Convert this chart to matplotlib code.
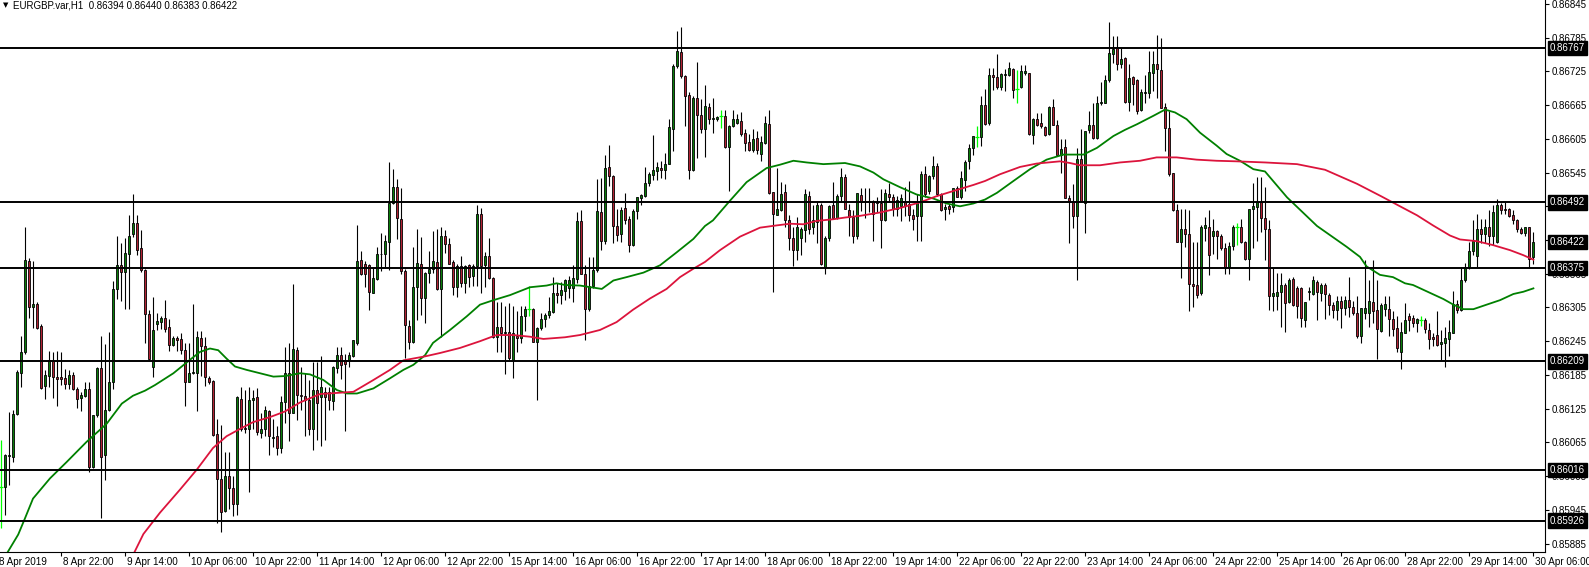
import numpy as np
import matplotlib
matplotlib.use("Agg")
import matplotlib.pyplot as plt
from matplotlib.transforms import blended_transform_factory

plt.rcParams['font.family'] = ['Liberation Sans', 'DejaVu Sans']

# EURGBP H1, bars 1..384 (8 Apr 07:00 .. 30 Apr 06:00)
opens = [
    0.85986, 0.85986, 0.86041, 0.86039, 0.86115, 0.86189, 0.86225, 0.86387, 0.86305, 0.86311,
    0.86272, 0.86165, 0.86183, 0.86210, 0.86181, 0.86181, 0.86180, 0.86169, 0.86185, 0.86160,
    0.86144, 0.86147, 0.86160, 0.86022, 0.86113, 0.86197, 0.86042, 0.86122, 0.86172, 0.86337,
    0.86380, 0.86368, 0.86400, 0.86435, 0.86456, 0.86411, 0.86371, 0.86294, 0.86200, 0.86275,
    0.86280, 0.86286, 0.86271, 0.86238, 0.86250, 0.86249, 0.86230, 0.86172, 0.86188, 0.86188,
    0.86250, 0.86236, 0.86180, 0.86175, 0.86080, 0.85999, 0.85943, 0.86006, 0.85984, 0.85955,
    0.86143, 0.86091, 0.86088, 0.86141, 0.86145, 0.86082, 0.86088, 0.86120, 0.86072, 0.86076,
    0.86055, 0.86136, 0.86189, 0.86118, 0.86230, 0.86149, 0.86148, 0.86141, 0.86088, 0.86158,
    0.86145, 0.86155, 0.86154, 0.86139, 0.86197, 0.86220, 0.86211, 0.86211, 0.86218, 0.86242,
    0.86390, 0.86382, 0.86380, 0.86331, 0.86356, 0.86400, 0.86401, 0.86422, 0.86490, 0.86519,
    0.86463, 0.86370, 0.86272, 0.86243, 0.86341, 0.86382, 0.86321, 0.86367, 0.86374, 0.86386,
    0.86337, 0.86432, 0.86418, 0.86386, 0.86341, 0.86379, 0.86348, 0.86380, 0.86361, 0.86379,
    0.86471, 0.86381, 0.86396, 0.86357, 0.86253, 0.86270, 0.86259, 0.86261, 0.86212, 0.86255,
    0.86251, 0.86289, 0.86302, 0.86302, 0.86244, 0.86269, 0.86285, 0.86291, 0.86297, 0.86331,
    0.86327, 0.86335, 0.86340, 0.86340, 0.86356, 0.86459, 0.86364, 0.86302, 0.86343, 0.86371,
    0.86474, 0.86424, 0.86555, 0.86539, 0.86450, 0.86436, 0.86482, 0.86463, 0.86416, 0.86476,
    0.86500, 0.86504, 0.86526, 0.86541, 0.86548, 0.86554, 0.86550, 0.86561, 0.86623, 0.86734,
    0.86760, 0.86716, 0.86683, 0.86550, 0.86678, 0.86648, 0.86622, 0.86662, 0.86640, 0.86640,
    0.86646, 0.86646, 0.86590, 0.86628, 0.86634, 0.86636, 0.86616, 0.86599, 0.86585, 0.86606,
    0.86578, 0.86597, 0.86631, 0.86510, 0.86469, 0.86479, 0.86510, 0.86460, 0.86428, 0.86407,
    0.86428, 0.86442, 0.86504, 0.86448, 0.86457, 0.86487, 0.86377, 0.86428, 0.86487, 0.86465,
    0.86504, 0.86537, 0.86479, 0.86466, 0.86433, 0.86505, 0.86495, 0.86492, 0.86495, 0.86492,
    0.86490, 0.86460, 0.86506, 0.86502, 0.86480, 0.86485, 0.86492, 0.86489, 0.86470, 0.86468,
    0.86468, 0.86543, 0.86512, 0.86539, 0.86557, 0.86506, 0.86480, 0.86485, 0.86484, 0.86518,
    0.86501, 0.86531, 0.86565, 0.86588, 0.86608, 0.86608, 0.86666, 0.86633, 0.86719, 0.86715,
    0.86697, 0.86718, 0.86719, 0.86729, 0.86693, 0.86697, 0.86722, 0.86723, 0.86611, 0.86640,
    0.86633, 0.86626, 0.86613, 0.86662, 0.86630, 0.86577, 0.86591, 0.86499, 0.86495, 0.86467,
    0.86570, 0.86491, 0.86620, 0.86630, 0.86607, 0.86668, 0.86669, 0.86710, 0.86756, 0.86769,
    0.86738, 0.86749, 0.86671, 0.86715, 0.86709, 0.86656, 0.86686, 0.86687, 0.86722, 0.86738,
    0.86728, 0.86662, 0.86625, 0.86544, 0.86479, 0.86421, 0.86445, 0.86436, 0.86346, 0.86345,
    0.86330, 0.86447, 0.86448, 0.86432, 0.86441, 0.86432, 0.86411, 0.86377, 0.86414, 0.86449,
    0.86449, 0.86421, 0.86392, 0.86480, 0.86483, 0.86492, 0.86465, 0.86445, 0.86326, 0.86326,
    0.86333, 0.86345, 0.86314, 0.86356, 0.86340, 0.86339, 0.86282, 0.86333, 0.86329, 0.86351,
    0.86330, 0.86345, 0.86327, 0.86310, 0.86300, 0.86316, 0.86304, 0.86319, 0.86306, 0.86295,
    0.86254, 0.86295, 0.86295, 0.86314, 0.86300, 0.86264, 0.86303, 0.86302, 0.86284, 0.86268,
    0.86225, 0.86259, 0.86289, 0.86286, 0.86277, 0.86282, 0.86283, 0.86265, 0.86253, 0.86256,
    0.86240, 0.86242, 0.86249, 0.86259, 0.86311, 0.86301, 0.86353, 0.86377, 0.86406, 0.86396,
    0.86445, 0.86435, 0.86448, 0.86433, 0.86422, 0.86487, 0.86480, 0.86480, 0.86469, 0.86461,
    0.86445, 0.86438, 0.86448, 0.86394,
]
highs = [
    0.86069, 0.86045, 0.86119, 0.86122, 0.86194, 0.86255, 0.86449, 0.86393, 0.86387, 0.86314,
    0.86275, 0.86194, 0.86228, 0.86226, 0.86228, 0.86226, 0.86196, 0.86194, 0.86190, 0.86163,
    0.86154, 0.86173, 0.86173, 0.86114, 0.86200, 0.86255, 0.86240, 0.86261, 0.86352, 0.86433,
    0.86420, 0.86429, 0.86470, 0.86507, 0.86470, 0.86442, 0.86374, 0.86300, 0.86324, 0.86295,
    0.86289, 0.86318, 0.86284, 0.86254, 0.86254, 0.86259, 0.86241, 0.86241, 0.86312, 0.86263,
    0.86263, 0.86253, 0.86183, 0.86176, 0.86107, 0.86096, 0.86048, 0.86048, 0.86005, 0.86147,
    0.86164, 0.86158, 0.86163, 0.86158, 0.86161, 0.86117, 0.86129, 0.86123, 0.86107, 0.86094,
    0.86147, 0.86235, 0.86241, 0.86346, 0.86235, 0.86200, 0.86188, 0.86176, 0.86208, 0.86208,
    0.86218, 0.86164, 0.86164, 0.86201, 0.86235, 0.86235, 0.86223, 0.86226, 0.86248, 0.86452,
    0.86406, 0.86387, 0.86382, 0.86377, 0.86412, 0.86437, 0.86434, 0.86564, 0.86551, 0.86533,
    0.86518, 0.86374, 0.86282, 0.86412, 0.86444, 0.86430, 0.86369, 0.86406, 0.86441, 0.86444,
    0.86449, 0.86442, 0.86428, 0.86389, 0.86382, 0.86396, 0.86380, 0.86383, 0.86382, 0.86488,
    0.86482, 0.86404, 0.86428, 0.86360, 0.86314, 0.86315, 0.86307, 0.86313, 0.86307, 0.86298,
    0.86307, 0.86307, 0.86343, 0.86304, 0.86271, 0.86296, 0.86295, 0.86324, 0.86360, 0.86348,
    0.86351, 0.86356, 0.86361, 0.86380, 0.86475, 0.86479, 0.86380, 0.86394, 0.86394, 0.86534,
    0.86536, 0.86577, 0.86594, 0.86540, 0.86480, 0.86483, 0.86509, 0.86467, 0.86480, 0.86502,
    0.86506, 0.86555, 0.86546, 0.86611, 0.86564, 0.86566, 0.86580, 0.86640, 0.86738, 0.86796,
    0.86804, 0.86719, 0.86689, 0.86682, 0.86742, 0.86675, 0.86700, 0.86668, 0.86678, 0.86646,
    0.86656, 0.86656, 0.86630, 0.86656, 0.86649, 0.86652, 0.86622, 0.86613, 0.86622, 0.86619,
    0.86610, 0.86646, 0.86656, 0.86510, 0.86554, 0.86528, 0.86525, 0.86469, 0.86448, 0.86466,
    0.86449, 0.86516, 0.86512, 0.86487, 0.86492, 0.86490, 0.86433, 0.86487, 0.86528, 0.86506,
    0.86554, 0.86542, 0.86489, 0.86478, 0.86509, 0.86518, 0.86518, 0.86518, 0.86497, 0.86502,
    0.86515, 0.86515, 0.86527, 0.86506, 0.86503, 0.86506, 0.86519, 0.86530, 0.86480, 0.86506,
    0.86547, 0.86557, 0.86541, 0.86574, 0.86562, 0.86508, 0.86489, 0.86489, 0.86518, 0.86521,
    0.86547, 0.86568, 0.86595, 0.86610, 0.86627, 0.86682, 0.86694, 0.86731, 0.86731, 0.86756,
    0.86722, 0.86729, 0.86742, 0.86731, 0.86727, 0.86737, 0.86737, 0.86723, 0.86642, 0.86651,
    0.86651, 0.86628, 0.86663, 0.86675, 0.86638, 0.86604, 0.86604, 0.86505, 0.86524, 0.86589,
    0.86622, 0.86619, 0.86654, 0.86669, 0.86681, 0.86707, 0.86719, 0.86812, 0.86788, 0.86788,
    0.86767, 0.86750, 0.86738, 0.86716, 0.86711, 0.86693, 0.86719, 0.86762, 0.86762, 0.86790,
    0.86785, 0.86669, 0.86655, 0.86544, 0.86489, 0.86480, 0.86480, 0.86478, 0.86421, 0.86421,
    0.86451, 0.86466, 0.86479, 0.86463, 0.86443, 0.86436, 0.86419, 0.86421, 0.86451, 0.86455,
    0.86463, 0.86424, 0.86480, 0.86526, 0.86537, 0.86538, 0.86520, 0.86460, 0.86375, 0.86366,
    0.86366, 0.86349, 0.86357, 0.86360, 0.86343, 0.86342, 0.86314, 0.86342, 0.86361, 0.86353,
    0.86349, 0.86349, 0.86330, 0.86314, 0.86326, 0.86325, 0.86326, 0.86360, 0.86316, 0.86326,
    0.86304, 0.86389, 0.86354, 0.86389, 0.86354, 0.86313, 0.86325, 0.86325, 0.86298, 0.86289,
    0.86280, 0.86313, 0.86295, 0.86292, 0.86287, 0.86290, 0.86286, 0.86278, 0.86259, 0.86299,
    0.86265, 0.86271, 0.86283, 0.86335, 0.86318, 0.86377, 0.86385, 0.86422, 0.86460, 0.86472,
    0.86463, 0.86463, 0.86479, 0.86488, 0.86498, 0.86491, 0.86492, 0.86482, 0.86478, 0.86463,
    0.86449, 0.86449, 0.86448, 0.86440,
]
lows = [
    0.85912, 0.85936, 0.85989, 0.86030, 0.86113, 0.86163, 0.86222, 0.86287, 0.86269, 0.86266,
    0.86160, 0.86143, 0.86163, 0.86144, 0.86130, 0.86167, 0.86160, 0.86160, 0.86159, 0.86127,
    0.86121, 0.86145, 0.86012, 0.86020, 0.86110, 0.85930, 0.85998, 0.86120, 0.86160, 0.86320,
    0.86317, 0.86303, 0.86302, 0.86430, 0.86399, 0.86368, 0.86242, 0.86212, 0.86181, 0.86265,
    0.86266, 0.86261, 0.86228, 0.86236, 0.86228, 0.86223, 0.86130, 0.86172, 0.86187, 0.86121,
    0.86183, 0.86166, 0.86169, 0.86076, 0.85921, 0.85906, 0.85941, 0.85946, 0.85934, 0.85935,
    0.86086, 0.86082, 0.85976, 0.86088, 0.86079, 0.86073, 0.86076, 0.86043, 0.86057, 0.86043,
    0.86046, 0.86099, 0.86067, 0.86117, 0.86105, 0.86123, 0.86076, 0.86079, 0.86051, 0.86070,
    0.86058, 0.86070, 0.86123, 0.86123, 0.86188, 0.86177, 0.86085, 0.86200, 0.86217, 0.86238,
    0.86362, 0.86341, 0.86301, 0.86330, 0.86353, 0.86370, 0.86377, 0.86371, 0.86489, 0.86427,
    0.86365, 0.86216, 0.86232, 0.86241, 0.86282, 0.86291, 0.86278, 0.86349, 0.86367, 0.86336,
    0.86252, 0.86402, 0.86382, 0.86327, 0.86324, 0.86342, 0.86331, 0.86342, 0.86343, 0.86343,
    0.86330, 0.86342, 0.86355, 0.86251, 0.86225, 0.86225, 0.86187, 0.86212, 0.86180, 0.86225,
    0.86242, 0.86264, 0.86290, 0.86243, 0.86141, 0.86265, 0.86271, 0.86286, 0.86295, 0.86313,
    0.86311, 0.86318, 0.86321, 0.86315, 0.86349, 0.86364, 0.86247, 0.86298, 0.86340, 0.86368,
    0.86408, 0.86418, 0.86521, 0.86420, 0.86424, 0.86421, 0.86453, 0.86404, 0.86415, 0.86462,
    0.86487, 0.86501, 0.86521, 0.86532, 0.86532, 0.86536, 0.86533, 0.86560, 0.86583, 0.86731,
    0.86713, 0.86627, 0.86533, 0.86548, 0.86571, 0.86616, 0.86572, 0.86631, 0.86616, 0.86636,
    0.86624, 0.86589, 0.86513, 0.86626, 0.86631, 0.86610, 0.86583, 0.86584, 0.86581, 0.86578,
    0.86566, 0.86596, 0.86507, 0.86333, 0.86469, 0.86477, 0.86448, 0.86408, 0.86379, 0.86389,
    0.86398, 0.86422, 0.86436, 0.86436, 0.86419, 0.86380, 0.86364, 0.86423, 0.86463, 0.86463,
    0.86495, 0.86480, 0.86433, 0.86419, 0.86427, 0.86477, 0.86465, 0.86474, 0.86423, 0.86474,
    0.86411, 0.86459, 0.86493, 0.86468, 0.86468, 0.86459, 0.86468, 0.86459, 0.86443, 0.86424,
    0.86424, 0.86501, 0.86506, 0.86533, 0.86503, 0.86477, 0.86460, 0.86472, 0.86474, 0.86501,
    0.86498, 0.86512, 0.86552, 0.86577, 0.86590, 0.86592, 0.86630, 0.86630, 0.86692, 0.86694,
    0.86692, 0.86691, 0.86716, 0.86678, 0.86669, 0.86695, 0.86719, 0.86611, 0.86595, 0.86627,
    0.86624, 0.86610, 0.86611, 0.86629, 0.86575, 0.86545, 0.86499, 0.86420, 0.86447, 0.86353,
    0.86495, 0.86437, 0.86616, 0.86604, 0.86605, 0.86666, 0.86668, 0.86707, 0.86740, 0.86728,
    0.86731, 0.86669, 0.86655, 0.86666, 0.86649, 0.86655, 0.86669, 0.86678, 0.86691, 0.86678,
    0.86660, 0.86584, 0.86539, 0.86476, 0.86421, 0.86357, 0.86413, 0.86298, 0.86306, 0.86321,
    0.86327, 0.86424, 0.86362, 0.86401, 0.86392, 0.86408, 0.86365, 0.86364, 0.86408, 0.86416,
    0.86419, 0.86389, 0.86354, 0.86410, 0.86424, 0.86439, 0.86390, 0.86301, 0.86298, 0.86301,
    0.86270, 0.86261, 0.86313, 0.86308, 0.86286, 0.86271, 0.86271, 0.86319, 0.86327, 0.86283,
    0.86316, 0.86284, 0.86292, 0.86286, 0.86283, 0.86268, 0.86292, 0.86288, 0.86292, 0.86251,
    0.86241, 0.86284, 0.86271, 0.86277, 0.86214, 0.86261, 0.86289, 0.86255, 0.86254, 0.86225,
    0.86195, 0.86259, 0.86264, 0.86271, 0.86262, 0.86272, 0.86259, 0.86231, 0.86236, 0.86236,
    0.86212, 0.86200, 0.86218, 0.86259, 0.86296, 0.86298, 0.86351, 0.86374, 0.86398, 0.86377,
    0.86419, 0.86419, 0.86414, 0.86416, 0.86419, 0.86472, 0.86472, 0.86466, 0.86454, 0.86439,
    0.86436, 0.86433, 0.86376, 0.86383,
]
closes = [
    0.85986, 0.86042, 0.86043, 0.86116, 0.86190, 0.86226, 0.86390, 0.86305, 0.86312, 0.86269,
    0.86161, 0.86185, 0.86212, 0.86181, 0.86178, 0.86177, 0.86169, 0.86185, 0.86160, 0.86143,
    0.86150, 0.86160, 0.86022, 0.86113, 0.86197, 0.86039, 0.86122, 0.86173, 0.86337, 0.86380,
    0.86368, 0.86402, 0.86433, 0.86456, 0.86408, 0.86371, 0.86293, 0.86213, 0.86265, 0.86281,
    0.86286, 0.86267, 0.86238, 0.86250, 0.86247, 0.86229, 0.86172, 0.86189, 0.86190, 0.86253,
    0.86236, 0.86181, 0.86172, 0.86078, 0.85999, 0.85942, 0.86006, 0.85984, 0.85955, 0.86145,
    0.86088, 0.86088, 0.86141, 0.86144, 0.86083, 0.86088, 0.86122, 0.86076, 0.86074, 0.86055,
    0.86136, 0.86189, 0.86118, 0.86232, 0.86149, 0.86148, 0.86141, 0.86089, 0.86158, 0.86135,
    0.86164, 0.86145, 0.86141, 0.86200, 0.86220, 0.86203, 0.86204, 0.86220, 0.86247, 0.86388,
    0.86365, 0.86365, 0.86332, 0.86357, 0.86400, 0.86401, 0.86423, 0.86490, 0.86519, 0.86464,
    0.86370, 0.86273, 0.86243, 0.86341, 0.86384, 0.86321, 0.86367, 0.86374, 0.86388, 0.86337,
    0.86432, 0.86418, 0.86383, 0.86341, 0.86379, 0.86348, 0.86379, 0.86359, 0.86379, 0.86471,
    0.86379, 0.86396, 0.86357, 0.86253, 0.86271, 0.86259, 0.86261, 0.86215, 0.86259, 0.86251,
    0.86289, 0.86302, 0.86302, 0.86244, 0.86269, 0.86285, 0.86291, 0.86298, 0.86331, 0.86327,
    0.86336, 0.86353, 0.86353, 0.86357, 0.86458, 0.86365, 0.86302, 0.86344, 0.86371, 0.86477,
    0.86424, 0.86554, 0.86539, 0.86450, 0.86434, 0.86479, 0.86461, 0.86416, 0.86477, 0.86501,
    0.86505, 0.86527, 0.86542, 0.86550, 0.86555, 0.86550, 0.86560, 0.86626, 0.86735, 0.86762,
    0.86716, 0.86681, 0.86550, 0.86678, 0.86648, 0.86622, 0.86664, 0.86640, 0.86642, 0.86644,
    0.86646, 0.86590, 0.86628, 0.86640, 0.86640, 0.86613, 0.86597, 0.86585, 0.86605, 0.86585,
    0.86599, 0.86634, 0.86508, 0.86472, 0.86480, 0.86507, 0.86460, 0.86428, 0.86408, 0.86449,
    0.86444, 0.86506, 0.86445, 0.86460, 0.86487, 0.86383, 0.86428, 0.86485, 0.86465, 0.86504,
    0.86538, 0.86480, 0.86466, 0.86433, 0.86508, 0.86492, 0.86493, 0.86495, 0.86471, 0.86490,
    0.86460, 0.86508, 0.86501, 0.86480, 0.86496, 0.86499, 0.86485, 0.86470, 0.86462, 0.86490,
    0.86543, 0.86506, 0.86539, 0.86557, 0.86506, 0.86478, 0.86483, 0.86480, 0.86517, 0.86502,
    0.86535, 0.86564, 0.86588, 0.86610, 0.86608, 0.86666, 0.86632, 0.86719, 0.86715, 0.86697,
    0.86720, 0.86720, 0.86731, 0.86692, 0.86693, 0.86725, 0.86725, 0.86613, 0.86640, 0.86630,
    0.86627, 0.86611, 0.86662, 0.86630, 0.86577, 0.86587, 0.86499, 0.86493, 0.86467, 0.86570,
    0.86495, 0.86619, 0.86630, 0.86607, 0.86669, 0.86670, 0.86710, 0.86757, 0.86764, 0.86738,
    0.86747, 0.86671, 0.86714, 0.86703, 0.86655, 0.86689, 0.86689, 0.86724, 0.86738, 0.86730,
    0.86660, 0.86624, 0.86542, 0.86478, 0.86421, 0.86445, 0.86435, 0.86347, 0.86343, 0.86327,
    0.86448, 0.86451, 0.86398, 0.86441, 0.86432, 0.86410, 0.86377, 0.86414, 0.86448, 0.86449,
    0.86421, 0.86392, 0.86480, 0.86485, 0.86492, 0.86465, 0.86445, 0.86326, 0.86330, 0.86333,
    0.86345, 0.86313, 0.86353, 0.86310, 0.86308, 0.86286, 0.86314, 0.86335, 0.86353, 0.86332,
    0.86345, 0.86329, 0.86310, 0.86301, 0.86317, 0.86304, 0.86319, 0.86306, 0.86295, 0.86254,
    0.86304, 0.86304, 0.86316, 0.86298, 0.86266, 0.86310, 0.86312, 0.86284, 0.86267, 0.86233,
    0.86261, 0.86283, 0.86283, 0.86278, 0.86285, 0.86282, 0.86266, 0.86249, 0.86249, 0.86239,
    0.86243, 0.86250, 0.86261, 0.86311, 0.86300, 0.86353, 0.86377, 0.86406, 0.86423, 0.86445,
    0.86435, 0.86448, 0.86432, 0.86475, 0.86488, 0.86479, 0.86479, 0.86467, 0.86461, 0.86444,
    0.86438, 0.86448, 0.86392, 0.86422,
]

# moving averages, read at points along the two lines (bar position, price)
green_ma_bar = [1, 5.3, 7, 9, 13.25, 17.4, 22.4, 27.4, 31.2, 34, 37, 39.5, 44.1, 48.25, 50.75, 53.25,
                55.3, 57.4, 59.5, 62.4, 65.75, 69.1, 72, 75.75, 78.25, 81.6, 85, 87.5, 90, 94.1,
                98.25, 101.6, 104.1, 107, 109, 113.25, 117.4, 120.75, 124.1, 128.25, 133.25, 137.4,
                139.9, 142, 145.75, 151.2, 154.1, 157.4, 161.6, 165.75, 169.9, 174.1, 177, 179,
                183.25, 187.4, 192.4, 195.75, 199.1, 202.4, 206.6, 212, 215.75, 219.1, 221.6,
                225.75, 229.9, 234, 237.4, 240.75, 244.1, 247, 250, 254.1, 258.25, 262.4, 266.6,
                271.6, 275, 279.1, 282, 285, 289.1, 292, 294.5, 297.4, 300.75, 304.9, 307.4,
                310.75, 314.1, 317, 322.5, 330, 337.4, 340.75, 342.4, 345.75, 349, 352, 354,
                358.25, 361.6, 364.1, 366.6, 369.1, 372.4, 375.75, 379.1, 381.6, 384.1]
green_ma = [0.85850, 0.85901, 0.85930, 0.85965, 0.86001, 0.86030, 0.86066, 0.86098, 0.86134, 0.86148,
            0.86157, 0.86167, 0.86188, 0.86212, 0.86226, 0.86232, 0.86229, 0.86214, 0.86200, 0.86194,
            0.86188, 0.86182, 0.86183, 0.86188, 0.86186, 0.86176, 0.86158, 0.86152, 0.86152, 0.86161,
            0.86179, 0.86194, 0.86203, 0.86220, 0.86242, 0.86265, 0.86289, 0.86310, 0.86318, 0.86327,
            0.86341, 0.86344, 0.86348, 0.86345, 0.86344, 0.86338, 0.86353, 0.86359, 0.86367, 0.86380,
            0.86403, 0.86427, 0.86450, 0.86460, 0.86495, 0.86528, 0.86553, 0.86559, 0.86566, 0.86563,
            0.86560, 0.86562, 0.86556, 0.86545, 0.86533, 0.86519, 0.86506, 0.86499, 0.86490, 0.86485,
            0.86490, 0.86497, 0.86509, 0.86530, 0.86551, 0.86568, 0.86577, 0.86577, 0.86589, 0.86610,
            0.86621, 0.86631, 0.86646, 0.86657, 0.86652, 0.86640, 0.86616, 0.86593, 0.86578, 0.86566,
            0.86551, 0.86547, 0.86501, 0.86450, 0.86413, 0.86395, 0.86378, 0.86363, 0.86359, 0.86348,
            0.86345, 0.86331, 0.86320, 0.86310, 0.86302, 0.86302, 0.86310, 0.86318, 0.86329, 0.86333,
            0.86339]
red_ma_bar = [33, 36.6, 40.75, 45.75, 50, 54, 57.4, 60.75, 64, 68.25, 72, 75.75, 80.75, 85, 89.1,
              94.1, 98.25, 101.6, 107, 110.75, 115.75, 120.75, 124.9, 129, 133.25, 136.6, 142,
              145.75, 150.75, 154.9, 159, 163.25, 167.4, 170.75, 174.1, 177, 180.75, 185.75,
              190.75, 194.9, 198.25, 201.6, 204.9, 209.1, 212, 215.75, 220.75, 225.75, 230.75,
              234.9, 239, 244.1, 247, 250.75, 255.75, 259.9, 265.75, 268.25, 270.75, 275.75,
              280.75, 285.75, 289.9, 294.9, 299.9, 304.9, 309.9, 317, 325, 332, 340, 346, 350.75,
              355, 359, 363.25, 365.75, 369.9, 374, 378.25, 381.6, 384.1]
red_ma = [0.85850, 0.85902, 0.85940, 0.85981, 0.86017, 0.86055, 0.86076, 0.86089, 0.86101, 0.86110,
          0.86120, 0.86136, 0.86151, 0.86153, 0.86155, 0.86176, 0.86194, 0.86211, 0.86218, 0.86224,
          0.86233, 0.86245, 0.86256, 0.86256, 0.86253, 0.86249, 0.86252, 0.86256, 0.86265, 0.86279,
          0.86301, 0.86321, 0.86338, 0.86359, 0.86374, 0.86386, 0.86407, 0.86431, 0.86447, 0.86451,
          0.86454, 0.86453, 0.86459, 0.86462, 0.86465, 0.86468, 0.86474, 0.86482, 0.86492, 0.86503,
          0.86512, 0.86523, 0.86530, 0.86542, 0.86555, 0.86561, 0.86565, 0.86562, 0.86558, 0.86558,
          0.86563, 0.86566, 0.86572, 0.86572, 0.86568, 0.86566, 0.86565, 0.86563, 0.86560, 0.86550,
          0.86525, 0.86503, 0.86485, 0.86469, 0.86451, 0.86433, 0.86426, 0.86423, 0.86416, 0.86407,
          0.86398, 0.86390]

levels = [0.86767, 0.86492, 0.86375, 0.86209, 0.86016, 0.85926]
last_price = 0.86422
price_ticks = [0.86845, 0.86785, 0.86725, 0.86665, 0.86605, 0.86545, 0.86485, 0.86425, 0.86365,
               0.86305, 0.86245, 0.86185, 0.86125, 0.86065, 0.86005, 0.85945, 0.85885]
time_labels = ["8 Apr 2019", "8 Apr 22:00", "9 Apr 14:00", "10 Apr 06:00", "10 Apr 22:00",
               "11 Apr 14:00", "12 Apr 06:00", "12 Apr 22:00", "15 Apr 14:00", "16 Apr 06:00",
               "16 Apr 22:00", "17 Apr 14:00", "18 Apr 06:00", "18 Apr 22:00", "19 Apr 14:00",
               "22 Apr 06:00", "22 Apr 22:00", "23 Apr 14:00", "24 Apr 06:00", "24 Apr 22:00",
               "25 Apr 14:00", "26 Apr 06:00", "28 Apr 22:00", "29 Apr 14:00", "30 Apr 06:00"]
title = "EURGBP.var,H1  0.86394 0.86440 0.86383 0.86422"

W, H = 1589, 567
fig = plt.figure(figsize=(W / 100, H / 100), dpi=100)
ax = fig.add_axes([0, 1 - 552 / H, 1545 / W, 552 / H])

o = np.array(opens)
hi = np.array(highs)
lo = np.array(lows)
c = np.array(closes)
hi = np.maximum(hi, np.maximum(o, c))
lo = np.minimum(lo, np.minimum(o, c))
x = np.arange(1, len(c) + 1)

doji = o == c
up = c > o
dn = c < o

ax.vlines(x[~doji], lo[~doji], hi[~doji], color='black', lw=0.8, zorder=2)
ax.bar(x[up], c[up] - o[up], bottom=o[up], width=0.62, color='#0A7D0A',
       edgecolor='black', linewidth=0.6, zorder=3)
ax.bar(x[dn], o[dn] - c[dn], bottom=c[dn], width=0.62, color='#B22234',
       edgecolor='black', linewidth=0.6, zorder=3)
ax.vlines(x[doji], lo[doji], hi[doji], color='#00FF00', lw=0.9, zorder=3)
ax.hlines(o[doji], x[doji] - 0.4, x[doji] + 0.4, color='#00FF00', lw=0.9, zorder=3)

ax.plot(green_ma_bar, green_ma, color='#008000', lw=1.3, zorder=4)
ax.plot(red_ma_bar, red_ma, color='#DC143C', lw=1.3, zorder=4)

for lv in levels:
    ax.axhline(lv, color='black', lw=1.4, zorder=5)

ax.set_xlim(0.75, 387)
ax.set_ylim(0.85870, 0.86852)

for side in ['top', 'left']:
    ax.spines[side].set_visible(False)
ax.spines['right'].set_linewidth(0.8)
ax.spines['bottom'].set_linewidth(0.8)

ax.yaxis.tick_right()
ax.set_yticks(price_ticks)
ax.set_yticklabels([f"{p:.5f}" for p in price_ticks])
ax.tick_params(axis='y', direction='out', length=3, width=0.8, pad=2, labelsize=7)

tick_bars = [16 * k for k in range(len(time_labels))]
ax.set_xticks([b for b in tick_bars if b >= 1])
ax.set_xticklabels([])
ax.tick_params(axis='x', direction='out', length=3, width=0.8)
tr = blended_transform_factory(ax.transData, ax.transAxes)
for b, lab in zip(tick_bars, time_labels):
    ax.text(b + 0.6, -0.009, lab, transform=tr, ha='left', va='top', fontsize=7.1, clip_on=False)

# boxed price labels on the right scale
trb = blended_transform_factory(fig.transFigure, ax.transData)
for p in levels + [last_price]:
    ax.text(1550 / W, p, f"{p:.5f}", transform=trb, ha='left', va='center', fontsize=7,
            color='white', zorder=10, clip_on=False,
            bbox=dict(boxstyle='square,pad=0.22', facecolor='black', edgecolor='black'))

fig.text(3 / W, 1 - 5 / H, "\u25bc", fontsize=5, va='center', ha='left',
         family=['DejaVu Sans'])
fig.text(13 / W, 1 - 5 / H, title, fontsize=7, va='center', ha='left')

fig.savefig("out.png", dpi=100)
